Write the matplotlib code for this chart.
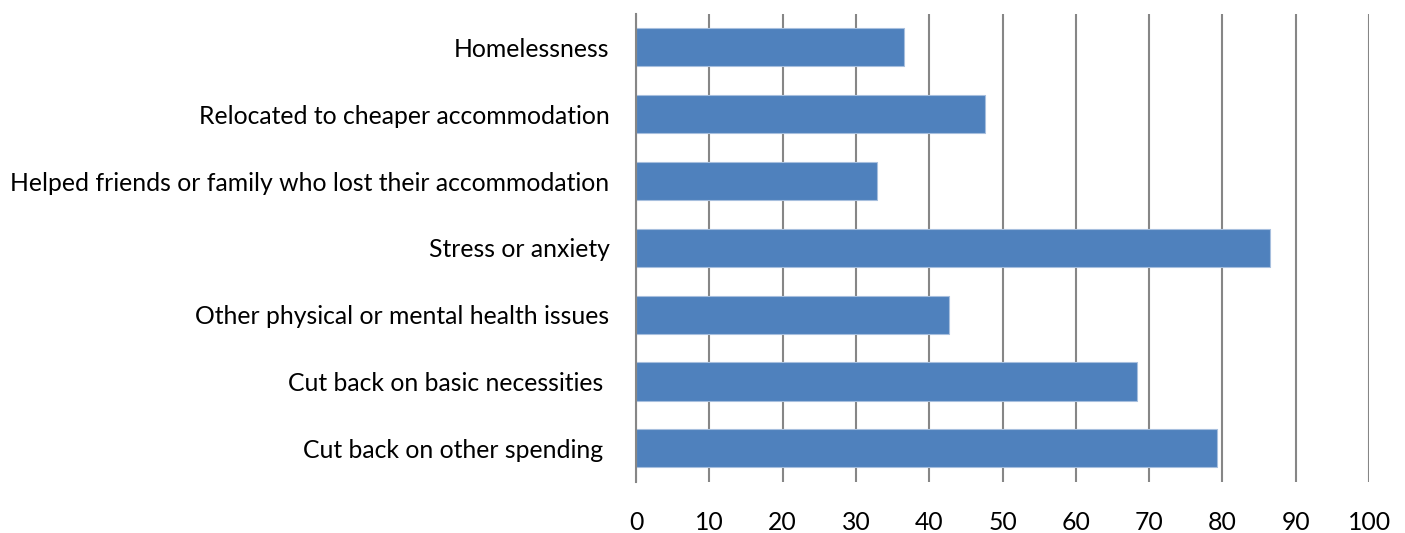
import matplotlib
matplotlib.use('Agg')
from matplotlib import pyplot as plt


CATEGORIES = [
    'Homelessness',
    'Relocated to cheaper accommodation',
    'Helped friends or family who lost their accommodation',
    'Stress or anxiety',
    'Other physical or mental health issues',
    'Cut back on basic necessities ',
    'Cut back on other spending ',
]
VALUES = [36.6, 47.6, 32.9, 86.5, 42.7, 68.3, 79.2]
X_TICKS = list(range(0, 101, 10))

BAR_COLOR = '#4F81BD'
GRID_COLOR = '#868686'

plt.rcParams['font.family'] = ['Lato', 'DejaVu Sans']

fig = plt.figure(figsize=(14.05, 5.33), dpi=100)
ax = fig.add_axes([636 / 1405, 51.3 / 533, 733 / 1405, 467.7 / 533])

pos = list(range(len(CATEGORIES)))
ax.barh(pos, VALUES, height=0.57, color=BAR_COLOR,
        edgecolor='#A7BFDE', linewidth=0.8, zorder=3)

ax.set_ylim(len(CATEGORIES) - 0.5, -0.5)
ax.set_xlim(0, 100)
ax.set_yticks(pos)
ax.set_yticklabels(CATEGORIES)
ax.set_xticks(X_TICKS)

ax.tick_params(axis='y', length=0, pad=19, labelsize=17.8, colors='black')
ax.tick_params(axis='x', length=0, pad=21, labelsize=17.8, colors='black')

ax.grid(axis='x', color=GRID_COLOR, linewidth=1.5, zorder=0)
for side in ('top', 'right', 'bottom'):
    ax.spines[side].set_visible(False)
ax.spines['left'].set_color(GRID_COLOR)
ax.spines['left'].set_linewidth(1.5)
ax.spines['left'].set_zorder(4)

plt.savefig('out.png', dpi=100)
plt.close()
